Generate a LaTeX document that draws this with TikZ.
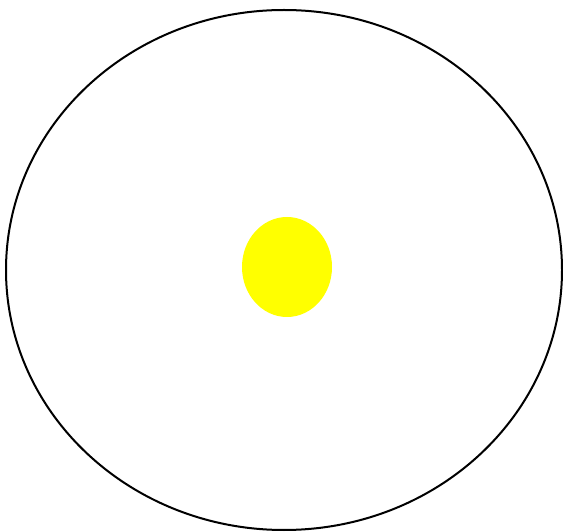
\documentclass[tikz,border=0pt]{standalone}
\definecolor{sunyellow}{RGB}{255,255,0}
\begin{document}
\begin{tikzpicture}[x=1pt,y=1pt,
  orbit/.style={draw=black,line width=2pt,fill=none},
  sun/.style={fill=sunyellow,draw=none}]
\useasboundingbox (0,0) rectangle (563,531);
\path[orbit] (284,261) ellipse [x radius=278, y radius=260];
\path[sun] (287,264) ellipse [x radius=45, y radius=50];
\end{tikzpicture}
\end{document}
